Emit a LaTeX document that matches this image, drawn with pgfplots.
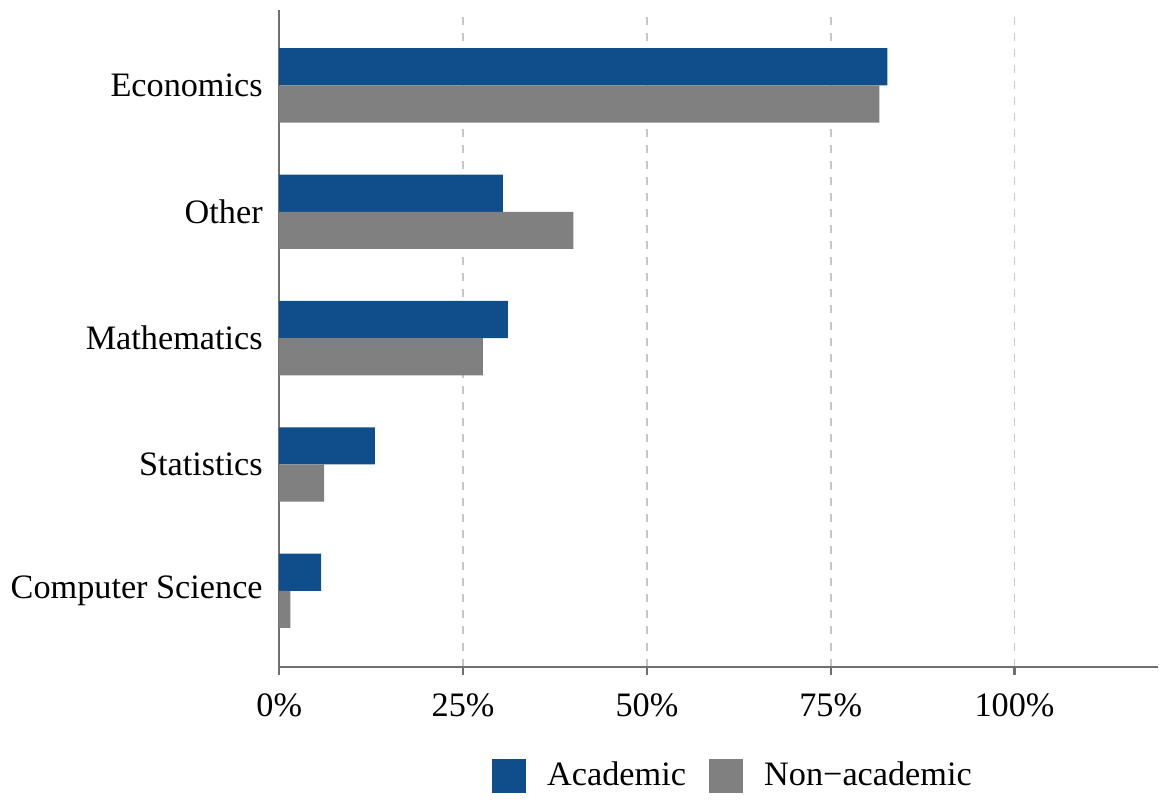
\documentclass[border=0pt,12pt]{standalone}
\usepackage{fontspec}
\setmainfont{Liberation Serif}
\usepackage{pgfplots}
\pgfplotsset{compat=1.18}
\definecolor{acad}{HTML}{104E8B}
\definecolor{nonacad}{HTML}{808080}
\definecolor{axgray}{HTML}{707070}
\definecolor{gridgray}{HTML}{C8C8C8}
\begin{document}
\begin{tikzpicture}
\begin{axis}[
  width=328.5pt, height=245.6pt, scale only axis,
  xbar, bar width=13.9pt,
  xmin=0, xmax=119.5, ymin=-0.6, ymax=4.6,
  axis lines*=left,
  axis line style={axgray, line width=0.8pt},
  xtick={0,25,50,75,100},
  xticklabels={0\%,25\%,50\%,75\%,100\%},
  xtick style={axgray, line width=0.8pt},
  tick align=outside, major tick length=3pt,
  xmajorgrids, grid style={gridgray, dashed, line width=0.6pt},
  ytick={0,1,2,3,4},
  yticklabels={Computer Science,Statistics,Mathematics,Other,Economics},
  ytick style={draw=none},
  yticklabel style={font=\fontsize{12.8}{15}\selectfont, xshift=1pt},
  xticklabel style={font=\fontsize{12.8}{15}\selectfont, yshift=-3pt},
  legend style={at={(0.518,-0.166)}, anchor=center, draw=none, legend columns=2,
    font=\fontsize{12.8}{15}\selectfont,
    /tikz/every odd column/.append style={column sep=6pt},
    /tikz/every even column/.append style={column sep=6.5pt}},
  legend image code/.code={\fill[#1] (0pt,-6.4pt) rectangle (12.75pt,6.4pt);},
]
\addplot[fill=acad, draw=none, bar shift=6.95pt] coordinates {(5.7,0) (13.0,1) (31.1,2) (30.4,3) (82.7,4)};
\addplot[fill=nonacad, draw=none, bar shift=-6.95pt] coordinates {(1.5,0) (6.1,1) (27.7,2) (40.0,3) (81.6,4)};
\legend{Academic, Non−academic}
\end{axis}
\path ([yshift=3.6pt]current axis.north east);
\end{tikzpicture}
\end{document}
